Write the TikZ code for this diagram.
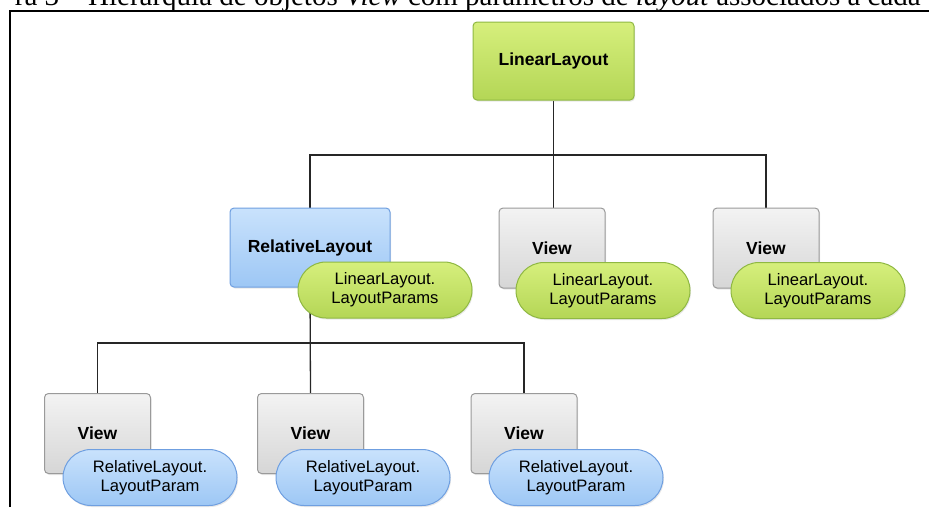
\documentclass[tikz,border=0pt]{standalone}
\usepackage{fontspec}
\setmainfont{Liberation Serif}
\newfontfamily\uisans{Liberation Sans}
\usetikzlibrary{positioning,backgrounds,shapes.misc,shadows}
\definecolor{greentop}{HTML}{D6EF7C}
\definecolor{greenbot}{HTML}{B4D656}
\definecolor{greenedge}{HTML}{8FB842}
\definecolor{bluetop}{HTML}{C9E2FC}
\definecolor{bluebot}{HTML}{9DC7F5}
\definecolor{blueedge}{HTML}{6F9FE0}
\definecolor{graytop}{HTML}{F3F3F3}
\definecolor{graybot}{HTML}{D6D6D6}
\definecolor{grayedge}{HTML}{9A9A9A}

\begin{document}
\begin{tikzpicture}[x=1pt, y=-1pt,
    box/.style={draw, rounded corners=4pt, line width=1pt, inner sep=0pt, font=\uisans\fontsize{17.5}{20}\selectfont\bfseries, drop shadow={opacity=0.18, shadow xshift=1pt, shadow yshift=-1.5pt}},
    linbox/.style={box, draw=greenedge, top color=greentop, bottom color=greenbot, minimum width=161pt, minimum height=78pt},
    relbox/.style={box, draw=blueedge, top color=bluetop, bottom color=bluebot, minimum width=160pt, minimum height=79pt},
    viewbox/.style={box, draw=grayedge, top color=graytop, bottom color=graybot, minimum width=106pt, minimum height=80pt},
    param/.style={rounded rectangle, line width=1pt, minimum width=174pt, minimum height=56pt, inner sep=0pt, align=center, font=\uisans\fontsize{16.6}{19}\selectfont, drop shadow={opacity=0.18, shadow xshift=1pt, shadow yshift=-1.5pt}},
    linparam/.style={param, draw=greenedge, top color=greentop, bottom color=greenbot},
    relparam/.style={param, draw=blueedge, top color=bluetop, bottom color=bluebot},
    tree/.style={draw=black!85, line width=1.3pt}
]
\useasboundingbox (0,0) rectangle (929,507);

% Caption (cut off at the top)
\begin{scope}
\clip (0,0) rectangle (929,507);
\node[anchor=base east, inner sep=0pt, font=\fontsize{29}{32}\selectfont] (caption) at (921,5) {ra 3 -- Hierarquia de objetos \textit{View} com parâmetros de \textit{layout} associados a cada};
\end{scope}

% Frame
\draw[line width=2pt] (10,507) -- (10,11) -- (929,11);

% Root
\node[linbox] (lin) at (553.5,61) {LinearLayout};

% Second level
\node[relbox] (rel) at (310,247.5) {RelativeLayout};
\node[viewbox] (v2) at (552,248) {View};
\node[viewbox] (v3) at (766,248) {View};

\node[linparam] (p1) at (385,290) {LinearLayout.\\LayoutParams};
\node[linparam] (p2) at (603,290.5) {LinearLayout.\\LayoutParams};
\node[linparam] (p3) at (818,290.5) {LinearLayout.\\LayoutParams};

% Third level
\node[viewbox] (b1) at (97.5,433.5) {View};
\node[viewbox] (b2) at (310.5,433.5) {View};
\node[viewbox] (b3) at (524,433.5) {View};

\node[relparam] (q1) at (150,477.5) {RelativeLayout.\\LayoutParam};
\node[relparam] (q2) at (363,477.5) {RelativeLayout.\\LayoutParam};
\node[relparam] (q3) at (576,477.5) {RelativeLayout.\\LayoutParam};

% Connecting lines
\coordinate (bus1) at (553,155);
\coordinate (bus2) at (311,343);
\begin{scope}[on background layer]
\draw[tree] (lin.south) -- (lin.south |- v2.north);
\draw[tree] (rel.north) |- (bus1) -| (v3.north);
\draw[tree] (rel.south) -- (b2.north);
\draw[tree] (b1.north) |- (bus2) -| (b3.north);
\end{scope}

\end{tikzpicture}
\end{document}
